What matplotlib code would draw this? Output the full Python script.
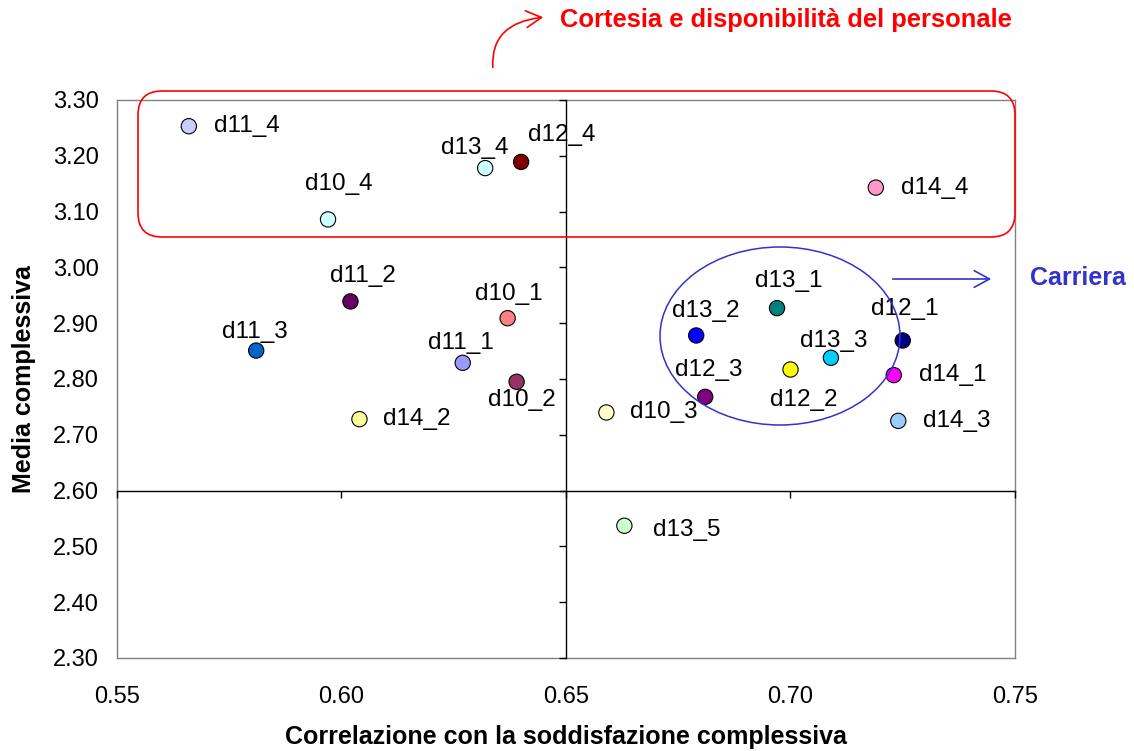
import matplotlib
matplotlib.use("Agg")
import matplotlib.pyplot as plt
from matplotlib.patches import FancyBboxPatch, Ellipse, FancyArrowPatch
from matplotlib.ticker import FormatStrFormatter, MultipleLocator

plt.rcParams["font.family"] = ["Liberation Sans", "DejaVu Sans"]

# Items: correlation with overall satisfaction vs overall mean score
names = ["d10_1", "d10_2", "d10_3", "d10_4",
         "d11_1", "d11_2", "d11_3", "d11_4",
         "d12_1", "d12_2", "d12_3", "d12_4",
         "d13_1", "d13_2", "d13_3", "d13_4", "d13_5",
         "d14_1", "d14_2", "d14_3", "d14_4"]
correlation = [0.637, 0.639, 0.659, 0.597,
               0.627, 0.602, 0.581, 0.566,
               0.725, 0.700, 0.681, 0.640,
               0.697, 0.679, 0.709, 0.632, 0.663,
               0.723, 0.604, 0.724, 0.719]
mean_score = [2.909, 2.795, 2.740, 3.086,
              2.829, 2.939, 2.851, 3.253,
              2.869, 2.817, 2.768, 3.189,
              2.927, 2.878, 2.838, 3.178, 2.537,
              2.807, 2.728, 2.725, 3.143]
colors = ["#FF8080", "#993366", "#FFFFCC", "#CCFFFF",
          "#9999FF", "#660066", "#0066CC", "#CCCCFF",
          "#000080", "#FFFF00", "#800080", "#800000",
          "#008080", "#0000FF", "#00CCFF", "#CCFFFF", "#CCFFCC",
          "#FF00FF", "#FFFF99", "#99CCFF", "#FF99CC"]

# Label placement: offset in pixels (right, down) and whether the label sits beside the point
label_layout = {
    "d10_1": (1.5, -24, "c"), "d10_2": (5, 18, "c"), "d10_3": (24, 0, "r"), "d10_4": (11, -35, "c"),
    "d11_1": (-2, -20, "c"), "d11_2": (12, -25, "c"), "d11_3": (-1, -19, "c"), "d11_4": (25, 0, "r"),
    "d12_1": (2, -31, "c"), "d12_2": (13, 30, "c"), "d12_3": (4, -27, "c"), "d12_4": (41, -27, "c"),
    "d13_1": (12, -27, "c"), "d13_2": (10, -24, "c"), "d13_3": (3, -17, "c"), "d13_4": (-10, -20, "c"),
    "d13_5": (29, 4, "r"),
    "d14_1": (25, 0, "r"), "d14_2": (24, 0, "r"), "d14_3": (25, 0, "r"), "d14_4": (25, 0, "r"),
}

x_range = (0.55, 0.75)
y_range = (2.30, 3.30)
x_cross = 0.65
y_cross = 2.60

W, H, DPI = 1134, 751, 100
fig = plt.figure(figsize=(W / DPI, H / DPI), dpi=DPI)
rect = [117 / W, (H - 658) / H, (1015 - 117) / W, (658 - 100) / H]

# Outer frame with the tick labels at the edges
ax = fig.add_axes(rect)
ax.set_xlim(*x_range)
ax.set_ylim(*y_range)
ax.xaxis.set_major_locator(MultipleLocator(0.05))
ax.yaxis.set_major_locator(MultipleLocator(0.10))
ax.xaxis.set_major_formatter(FormatStrFormatter("%.2f"))
ax.yaxis.set_major_formatter(FormatStrFormatter("%.2f"))
ax.tick_params(length=0, labelsize=17, colors="black")
ax.tick_params(axis="y", pad=13)
ax.tick_params(axis="x", pad=20)
for s in ax.spines.values():
    s.set_color("#808080")
    s.set_linewidth(1.0)
ax.set_xlabel("Correlazione con la soddisfazione complessiva", fontsize=18,
              fontweight="bold", va="center")
ax.xaxis.set_label_coords(0.5, -0.141)
ax.set_ylabel("Media complessiva", fontsize=18, fontweight="bold", labelpad=12)

# Inner crossing axes at (0.65, 2.60)
ax2 = fig.add_axes(rect, sharex=ax, sharey=ax)
ax2.patch.set_visible(False)
ax2.spines["top"].set_visible(False)
ax2.spines["right"].set_visible(False)
ax2.spines["left"].set_position(("data", x_cross))
ax2.spines["bottom"].set_position(("data", y_cross))
for side in ("left", "bottom"):
    ax2.spines[side].set_color("black")
    ax2.spines[side].set_linewidth(1.0)
ax2.tick_params(direction="out", length=5, width=1.0, colors="black",
                labelleft=False, labelbottom=False)

ax2.scatter(correlation, mean_score, s=11 ** 2, c=colors, edgecolors="black",
            linewidths=0.8, zorder=5, clip_on=False)

for name, xv, yv in zip(names, correlation, mean_score):
    dx, dy, kind = label_layout[name]
    ax2.annotate(name, (xv, yv), xytext=(dx * 72 / DPI, -dy * 72 / DPI),
                 textcoords="offset points",
                 ha="left" if kind == "r" else "center", va="center",
                 fontsize=17.5, color="black", zorder=6)

# Annotations in figure inches
inch = fig.dpi_scale_trans

def px(xp, yp):
    return (xp / DPI, (H - yp) / DPI)

red = "#FF0000"
blue = "#3333CC"

x0, y0 = px(138, 237)
x1, y1 = px(1015, 91)
box = FancyBboxPatch((x0, y0), x1 - x0, y1 - y0,
                     boxstyle="round,pad=0,rounding_size=0.24",
                     transform=inch, fill=False, edgecolor=red, linewidth=1.2)
fig.patches.append(box)

ecx, ecy = px(780, 336)
ell = Ellipse((ecx, ecy), 2.40, 1.78, transform=inch, fill=False,
              edgecolor=blue, linewidth=1.1)
fig.patches.append(ell)

curve = FancyArrowPatch(px(493, 70), px(546, 17), transform=inch,
                        connectionstyle="angle3,angleA=95,angleB=5",
                        arrowstyle="->,head_length=0.55,head_width=0.3",
                        mutation_scale=20, color=red, linewidth=1.2)
fig.patches.append(curve)

straight = FancyArrowPatch(px(890, 279), px(994, 279), transform=inch,
                           arrowstyle="->,head_length=0.55,head_width=0.3",
                           mutation_scale=20, color=blue, linewidth=1.2)
fig.patches.append(straight)

tx, ty = px(560, 20)
fig.text(tx, ty, "Cortesia e disponibilità del personale", transform=inch,
         color=red, fontsize=18.4, fontweight="bold", ha="left", va="center")
cx, cy = px(1030, 278)
fig.text(cx, cy, "Carriera", transform=inch, color=blue, fontsize=18,
         fontweight="bold", ha="left", va="center")

fig.savefig("out.png", dpi=DPI, facecolor="white")
